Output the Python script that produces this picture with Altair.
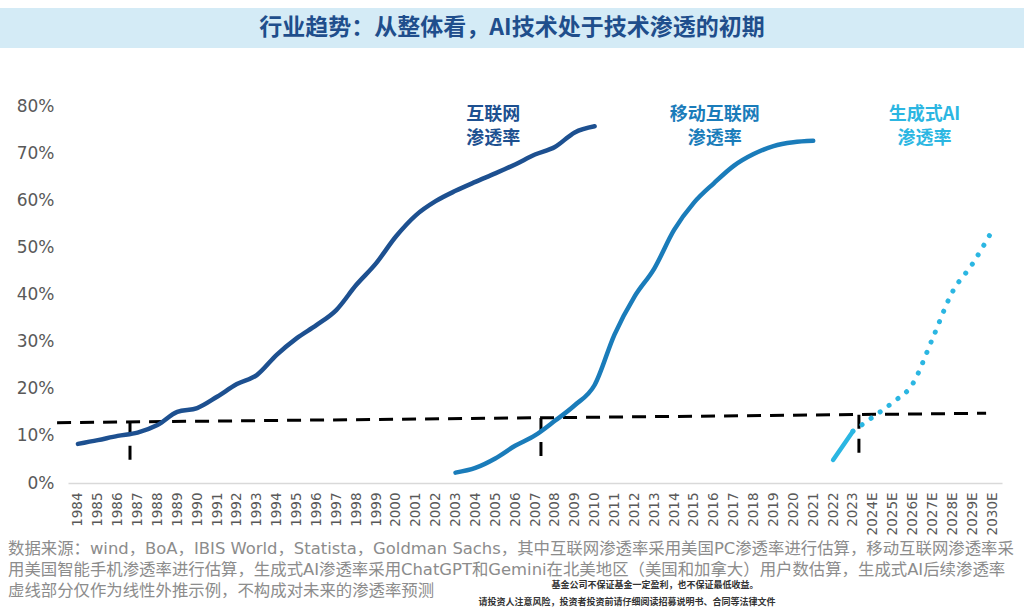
import altair as alt
import pandas as pd

# ---------------- data ----------------
year_labels = [str(y) for y in range(1984, 2024)] + [f"{y}E" for y in range(2024, 2031)]

internet_years = [str(y) for y in range(1984, 2011)]
internet_vals = [8.3, 9.1, 10.0, 10.7, 12.3, 15.1, 15.9, 18.3, 21.0, 22.9,
                 27.2, 30.7, 33.5, 36.7, 42.0, 46.6, 52.3, 56.8, 59.8, 62.0,
                 63.9, 65.7, 67.6, 69.7, 71.3, 74.4, 75.7]

mobile_years = [str(y) for y in range(2003, 2022)]
mobile_vals = [2.2, 3.2, 5.2, 7.9, 10.1, 13.2, 16.5, 20.8, 31.5, 39.5,
               45.5, 53.7, 59.5, 63.6, 67.3, 69.8, 71.5, 72.3, 72.6]

ai_years = ["2022", "2023"]
ai_vals = [4.9, 11.0]

ai_fc_years = ["2023", "2024E", "2025E", "2026E", "2027E", "2028E", "2029E", "2030E"]
ai_fc_vals = [11.0, 14.0, 17.1, 21.0, 30.6, 40.5, 46.4, 53.5]

# threshold dashed line (position on year-index axis, value in %)
thr_x = [-1.05, 45.7]
thr_v = [12.8, 14.8]
# vertical markers
mark_x = [2.62, 23.3, 39.3]
mark_top = [13.0, 13.8, 14.5]
mark_bottom = [4.5, 4.5, 4.5]

series_labels = ["互联网\n渗透率", "移动互联网\n渗透率", "生成式AI\n渗透率"]
series_label_x = [20.9, 32.05, 42.6]
series_label_y = [78.0, 78.0, 78.0]
series_colors = ["#1D5090", "#1A7CBA", "#2BB6E2"]

title_text = "行业趋势：从整体看，AI技术处于技术渗透的初期"
foot_lines = [
    "数据来源：wind，BoA，IBIS World，Statista，Goldman Sachs，其中互联网渗透率采用美国PC渗透率进行估算，移动互联网渗透率采",
    "用美国智能手机渗透率进行估算，生成式AI渗透率采用ChatGPT和Gemini在北美地区（美国和加拿大）用户数估算，生成式AI后续渗透率",
    "虚线部分仅作为线性外推示例，不构成对未来的渗透率预测",
]
warn_lines = [
    "基金公司不保证基金一定盈利，也不保证最低收益。",
    "请投资人注意风险，投资者投资前请仔细阅读招募说明书、合同等法律文件",
]

# ---------------- frames ----------------
def frame(labels, vals):
    return pd.DataFrame({"idx": [year_labels.index(l) for l in labels],
                         "v": [v / 100 for v in vals]})

df_int = frame(internet_years, internet_vals)
df_mob = frame(mobile_years, mobile_vals)
df_ai = frame(ai_years, ai_vals)
df_fc = frame(ai_fc_years, ai_fc_vals)
df_thr = pd.DataFrame({"idx": thr_x, "v": [v / 100 for v in thr_v]})
df_mk = pd.DataFrame({"idx": mark_x, "v": [v / 100 for v in mark_top],
                      "v2": [v / 100 for v in mark_bottom]})
df_lab = pd.DataFrame({"idx": series_label_x, "v": [v / 100 for v in series_label_y],
                       "t": series_labels, "c": series_colors})

label_array = "[" + ",".join(f"'{l}'" for l in year_labels) + "]"

xscale = alt.Scale(domain=[-0.5, len(year_labels) - 0.5], nice=False, zero=False)
yscale = alt.Scale(domain=[0, 0.8], nice=False)

xaxis = alt.Axis(title=None, values=list(range(len(year_labels))),
                 labelExpr=f"{label_array}[datum.value]", labelAngle=-90,
                 labelFontSize=13.5, labelColor="#595959", labelFont="DejaVu Sans",
                 labelPadding=9, ticks=False, grid=False, domainColor="#D9D9D9",
                 domainWidth=1.5, labelOverlap=False, labelBound=False, labelFlush=False)
yaxis = alt.Axis(title=None, values=[i / 10 for i in range(9)], format=".0%",
                 labelFontSize=17, labelColor="#595959", labelFont="DejaVu Sans",
                 labelPadding=14, ticks=False, grid=False, domain=False)

X = alt.X("idx:Q", scale=xscale, axis=xaxis)
Y = alt.Y("v:Q", scale=yscale, axis=yaxis)

one = pd.DataFrame({"a": [0]})

title_bar = alt.Chart(one).mark_rect(color="#D4EBF6").encode(
    x=alt.value(-68), x2=alt.value(956), y=alt.value(-98), y2=alt.value(-58))
title_txt = alt.Chart(one).mark_text(
    text=title_text, fontSize=23, fontWeight="bold", color="#1F4E8C",
    font="Noto Sans CJK SC", align="center", baseline="middle").encode(
    x=alt.value(444), y=alt.value(-78))

thr = alt.Chart(df_thr).mark_line(color="black", strokeWidth=3, strokeDash=[14, 9],
                                  clip=False).encode(x=X, y=Y)
mk = alt.Chart(df_mk).mark_rule(color="black", strokeWidth=3, strokeDash=[14, 10]).encode(
    x=X, y=Y, y2="v2:Q")

l_int = alt.Chart(df_int).mark_line(color=series_colors[0], strokeWidth=4.5,
                                    interpolate="monotone", strokeCap="round").encode(x=X, y=Y)
l_mob = alt.Chart(df_mob).mark_line(color=series_colors[1], strokeWidth=4.5,
                                    interpolate="monotone", strokeCap="round").encode(x=X, y=Y)
l_ai = alt.Chart(df_ai).mark_line(color=series_colors[2], strokeWidth=4.5,
                                  strokeCap="round").encode(x=X, y=Y)
l_fc = alt.Chart(df_fc).mark_line(color=series_colors[2], strokeWidth=5,
                                  strokeDash=[0.1, 11], strokeCap="round",
                                  interpolate="monotone").encode(x=X, y=Y)

labs = alt.Chart(df_lab).mark_text(fontSize=18, fontWeight="bold", font="Noto Sans CJK SC",
                                   lineBreak="\n", lineHeight=24, align="center",
                                   baseline="middle").encode(
    x=X, y=Y, text="t:N", color=alt.Color("c:N", scale=None))

foot = alt.Chart(pd.DataFrame({"t": foot_lines, "yy": [443, 464, 485]})).mark_text(
    fontSize=16.4, color="#8C8C8C", font="DejaVu Sans, Noto Sans CJK SC", align="left",
    baseline="middle").encode(x=alt.value(-60), y=alt.Y("yy:Q", scale=None), text="t:N")

warn = alt.Chart(pd.DataFrame({"t": warn_lines, "xx": [587, 559], "yy": [479, 496]})).mark_text(
    fontSize=9, fontWeight="bold", color="#333333", font="Noto Sans CJK SC", align="center",
    baseline="middle").encode(x=alt.X("xx:Q", scale=None), y=alt.Y("yy:Q", scale=None), text="t:N")

chart = alt.layer(
    title_bar, title_txt, thr, mk, l_int, l_mob, l_ai, l_fc, labs, foot, warn
).properties(
    width=934, height=377,
    padding={"left": 68, "top": 106, "right": 22, "bottom": 127},
    autosize=alt.AutoSizeParams(type="none"),
    background="white",
).configure_view(stroke=None)

chart.save("out.html", embed_options={"renderer": "svg", "actions": False})
